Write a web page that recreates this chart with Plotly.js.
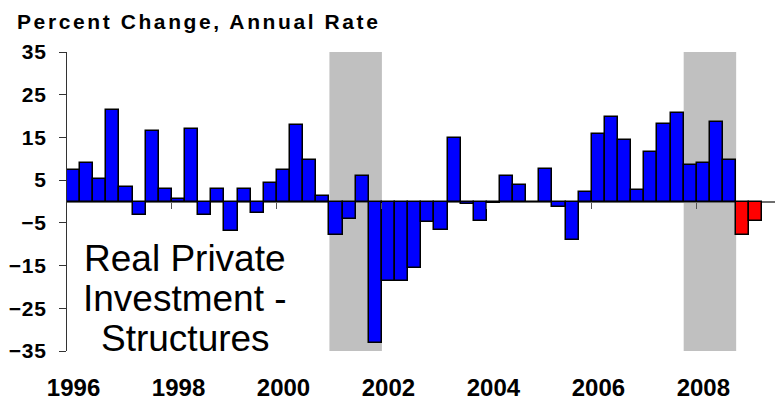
<!DOCTYPE html>
<html>
<head>
<meta charset="utf-8">
<script src="https://cdn.plot.ly/plotly-3.0.1.min.js"></script>
<style>
  html, body { margin: 0; padding: 0; background: #fff; }
  #chart { width: 775px; height: 406px; }
  .gtitle { letter-spacing: 2.6px; font-weight: bold; }
  .ytick text { letter-spacing: 0.8px; }
</style>
</head>
<body>
<div id="chart"></div>
<script>
// Quarterly % change, annual rate, 1996Q1 .. 2009Q1
const growth = [
    7.3, 8.9, 5.2, 21.5,      // 1996
    3.5, -3.2, 16.6, 3.0,     // 1997
    0.5, 16.9, -3.2, 3.0,     // 1998
    -7.0, 3.0, -2.8, 4.4,     // 1999
    7.3, 17.8, 9.8, 1.4,      // 2000
    -7.9, -4.1, 6.0, -33.1,   // 2001
    -18.7, -18.7, -15.5, -4.8,// 2002
    -6.6, 14.8, -0.7, -4.5,   // 2003
    -0.3, 6.0, 3.9, 0.0,      // 2004
    7.7, -1.2, -9.1, 2.2,     // 2005
    15.7, 19.9, 14.4, 2.6,    // 2006
    11.5, 18.2, 20.8, 8.6,    // 2007
    8.9, 18.7, 9.8, -7.9,     // 2008
    -4.5                      // 2009
];
const highlighted = ['2008Q4', '2009Q1'];
const recessions = [['2001Q1', '2001Q4'], ['2007Q4', '2008Q3']];
const tickYears = ['1996', '1998', '2000', '2002', '2004', '2006', '2008'];
const yTicks = [-35, -25, -15, -5, 5, 15, 25, 35];
const labelLines = ['Real Private', 'Investment -', 'Structures'];

// quarter labels
var quarters = [];
for (let yr = 1996; quarters.length < growth.length; yr++) {
    for (let q = 1; q <= 4 && quarters.length < growth.length; q++) {
        quarters.push(yr + 'Q' + q);
    }
}

const BLUE = '#0000ff';
const RED = '#ff0000';
const xMax = 53.46;

var barColors = quarters.map(q => highlighted.includes(q) ? RED : BLUE);

var trace = {
    x: quarters,
    y: growth,
    type: 'bar',
    width: 1,
    marker: { color: barColors, line: { color: '#000', width: 1.5 } },
    hovertemplate: '%{x}: %{y:.1f}%<extra></extra>'
};

// empty trace just so the tick-only overlay axis gets drawn
var tickTrace = { x: [], y: [], type: 'scatter', xaxis: 'x2', hoverinfo: 'skip', showlegend: false };

// grey recession bands
var shapes = recessions.map(r => ({
    type: 'rect', layer: 'below',
    xref: 'x', yref: 'paper',
    x0: quarters.indexOf(r[0]) - 0.5,
    x1: quarters.indexOf(r[1]) + 0.5,
    y0: 0, y1: 1,
    fillcolor: '#c0c0c0', line: { width: 0 }
}));

var annotations = labelLines.map((t, i) => ({
    text: t, xref: 'paper', yref: 'paper',
    x: 0.167, y: 0.308 - i * 0.133,
    xanchor: 'center', yanchor: 'middle',
    showarrow: false,
    font: { family: 'Liberation Sans, Arial, sans-serif', size: 37, color: '#000' }
}));

var layout = {
    width: 775,
    height: 406,
    margin: { l: 67, r: 0, t: 52, b: 55 },
    paper_bgcolor: '#fff',
    plot_bgcolor: 'rgba(0,0,0,0)',
    showlegend: false,
    title: {
        text: '<b>Percent Change, Annual Rate</b>',
        xref: 'container', yref: 'container',
        x: 17 / 775, xanchor: 'left',
        y: 0.947, yanchor: 'middle',
        font: { family: 'Liberation Sans, Arial, sans-serif', size: 21, weight: 'bold', color: '#000' }
    },
    xaxis: {
        type: 'category',
        range: [-0.5, xMax],
        tickvals: tickYears.map(y => y + 'Q1'),
        ticktext: tickYears,
        ticks: '',
        showline: false,
        showgrid: false,
        zeroline: false,
        ticklabelstandoff: 20,
        tickfont: { family: 'Liberation Sans, Arial, sans-serif', size: 24, weight: 'bold', color: '#000' }
    },
    // ticks sitting on the zero line at year boundaries
    xaxis2: {
        overlaying: 'x',
        anchor: 'free',
        position: 0.5,
        side: 'bottom',
        type: 'linear',
        range: [-0.5, xMax],
        tickvals: tickYears.slice(1).map(y => quarters.indexOf(y + 'Q1') - 0.5),
        ticks: 'outside',
        ticklen: 6,
        tickwidth: 1,
        tickcolor: '#555',
        showticklabels: false,
        showline: false,
        showgrid: false,
        zeroline: false
    },
    yaxis: {
        range: [-35, 35],
        tickvals: yTicks,
        ticks: 'outside',
        ticklen: 7,
        tickcolor: '#333',
        showline: true,
        linecolor: '#333',
        linewidth: 1,
        showgrid: false,
        zeroline: true,
        zerolinecolor: '#6e6e6e',
        zerolinewidth: 1.5,
        ticklabelstandoff: 8,
        tickfont: { family: 'Liberation Sans, Arial, sans-serif', size: 21, weight: 'bold', color: '#000' }
    },
    bargap: 0,
    shapes: shapes,
    annotations: annotations
};

Plotly.newPlot('chart', [trace, tickTrace], layout, { displayModeBar: false });
</script>
</body>
</html>
